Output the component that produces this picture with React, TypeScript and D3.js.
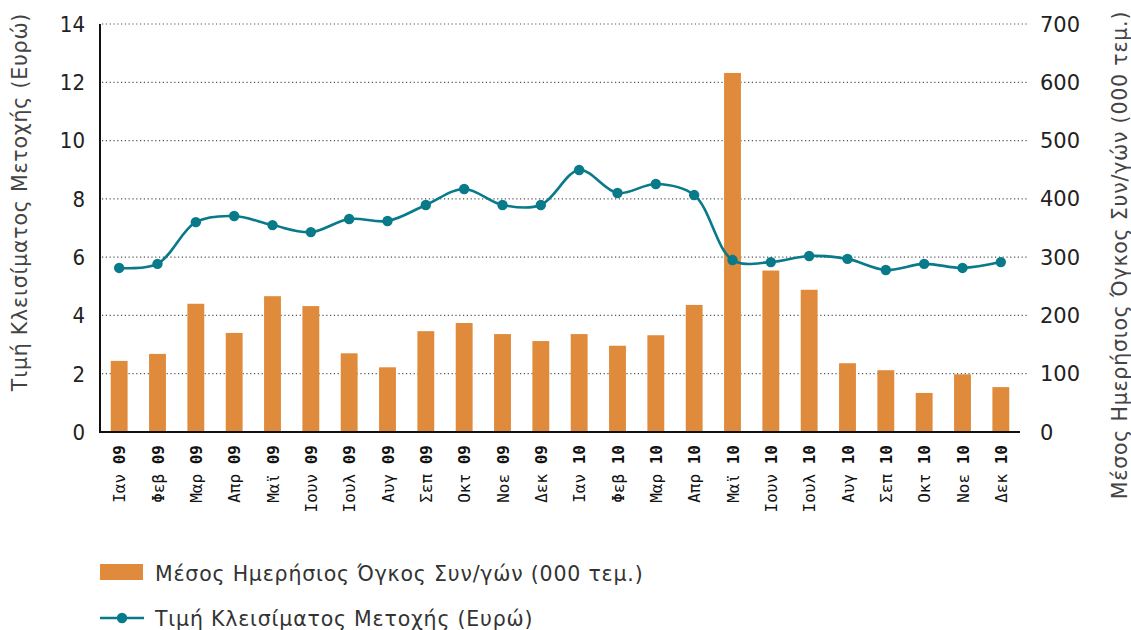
import React from 'react';
import * as d3 from 'd3';

const months = ['Ιαν', 'Φεβ', 'Μαρ', 'Απρ', 'Μαϊ', 'Ιουν', 'Ιουλ', 'Αυγ', 'Σεπ', 'Οκτ', 'Νοε', 'Δεκ'];
const years = ['09', '10'];
const categories = years.flatMap((y) => months.map((m) => ({ month: m, year: y, key: `${m} ${y}` })));

// μέσος ημερήσιος όγκος (000 τεμ.)
const volume = [122, 134, 220, 170, 233, 216, 135, 111, 173, 187, 168, 156,
  168, 148, 166, 218, 616, 277, 244, 118, 106, 67, 99, 77];
// τιμή κλεισίματος (ευρώ)
const price = [5.63, 5.77, 7.2, 7.41, 7.1, 6.86, 7.31, 7.24, 7.79, 8.34, 7.79, 7.79,
  8.99, 8.2, 8.51, 8.13, 5.9, 5.83, 6.04, 5.94, 5.56, 5.77, 5.63, 5.83];

const leftTicks = [0, 2, 4, 6, 8, 10, 12, 14];
const rightTicks = [0, 100, 200, 300, 400, 500, 600, 700];

const barColor = '#E08A3B';
const lineColor = '#087A8A';
const sans = '"DejaVu Sans", sans-serif';
const narrow = '"DejaVu Sans Condensed", "Liberation Sans Narrow", "DejaVu Sans", sans-serif';

export default function App() {
  const margin = { top: 24, right: 111, bottom: 198, left: 100 };
  const W = 1131, H = 630;
  const width = W - margin.left - margin.right;
  const height = H - margin.top - margin.bottom;

  const x = d3.scaleBand()
    .domain(categories.map((c) => c.key))
    .range([0, width])
    .paddingInner(0.56)
    .paddingOuter(0.28);

  const yL = d3.scaleLinear().domain([0, 14]).range([height, 0]);
  const yR = d3.scaleLinear().domain([0, 700]).range([height, 0]);

  const cx = (i) => x(categories[i].key) + x.bandwidth() / 2;

  const line = d3.line<number>()
    .x((d, i) => cx(i))
    .y((d) => yL(d))
    .curve(d3.curveCatmullRom.alpha(0.5));

  const titleStyle = { letterSpacing: '0.8px' };

  return (
    <svg width={W} height={H} style={{ position: 'absolute', left: 0, top: 0 }} fontFamily={sans}>
      <g transform={`translate(${margin.left},${margin.top})`}>
        {/* grid */}
        {leftTicks.filter((t) => t > 0).map((t) => (
          <line key={`g-${t}`} x1={2} x2={width + 8} y1={yL(t)} y2={yL(t)}
            stroke="#555" strokeWidth={1.2} strokeDasharray="1.2,2.6" />
        ))}
        {/* left ticks */}
        {leftTicks.map((t) => (
          <text key={`l-${t}`} x={-15} y={yL(t)} dy="0.36em" textAnchor="end"
            fontSize={22} fill="#222" fontFamily={narrow}>{t}</text>
        ))}
        {/* right ticks */}
        {rightTicks.map((t) => (
          <text key={`r-${t}`} x={width + 20} y={yR(t)} dy="0.36em" textAnchor="start"
            fontSize={21} fill="#222">{t}</text>
        ))}
        {/* bars */}
        {volume.map((v, i) => (
          <rect key={`b-${i}`} x={x(categories[i].key)} y={yR(v)} width={x.bandwidth()}
            height={height - yR(v)} fill={barColor} />
        ))}
        {/* axes */}
        <line x1={0} x2={0} y1={0} y2={height + 1} stroke="#111" strokeWidth={2} />
        <line x1={0} x2={width} y1={height} y2={height} stroke="#111" strokeWidth={2} />
        {/* price line */}
        <path d={line(price)} fill="none" stroke={lineColor} strokeWidth={2.6} />
        {price.map((p, i) => (
          <circle key={`p-${i}`} cx={cx(i)} cy={yL(p)} r={5.2} fill={lineColor} />
        ))}
        {/* x labels */}
        {categories.map((c, i) => (
          <text key={`x-${i}`} transform={`translate(${cx(i) + 6},${height + 13}) rotate(-90)`}
            textAnchor="end" fontSize={16} fill="#111"
            fontFamily='"DejaVu Sans Mono", monospace'>
            {c.month} <tspan fontWeight="bold">{c.year}</tspan>
          </text>
        ))}
      </g>
      {/* axis titles */}
      <text transform="translate(27,202) rotate(-90)" textAnchor="middle" style={titleStyle}
        fontSize={20.5} fill="#444">Τιμή Κλεισίματος Μετοχής (Ευρώ)</text>
      <text transform="translate(1127,255) rotate(-90)" textAnchor="middle" style={titleStyle}
        fontSize={20.5} fill="#444">Μέσος Ημερήσιος Όγκος Συν/γών (000 τεμ.)</text>
      {/* legend */}
      <rect x={100} y={564} width={43} height={16} fill={barColor} />
      <text x={155} y={581} fontSize={20.5} fill="#333" style={titleStyle}>Μέσος Ημερήσιος Όγκος Συν/γών (000 τεμ.)</text>
      <line x1={100} x2={144} y1={618} y2={618} stroke={lineColor} strokeWidth={2.6} />
      <circle cx={122} cy={618} r={5.2} fill={lineColor} />
      <text x={155} y={626} fontSize={20.5} fill="#333" style={titleStyle}>Τιμή Κλεισίματος Μετοχής (Ευρώ)</text>
    </svg>
  );
}
